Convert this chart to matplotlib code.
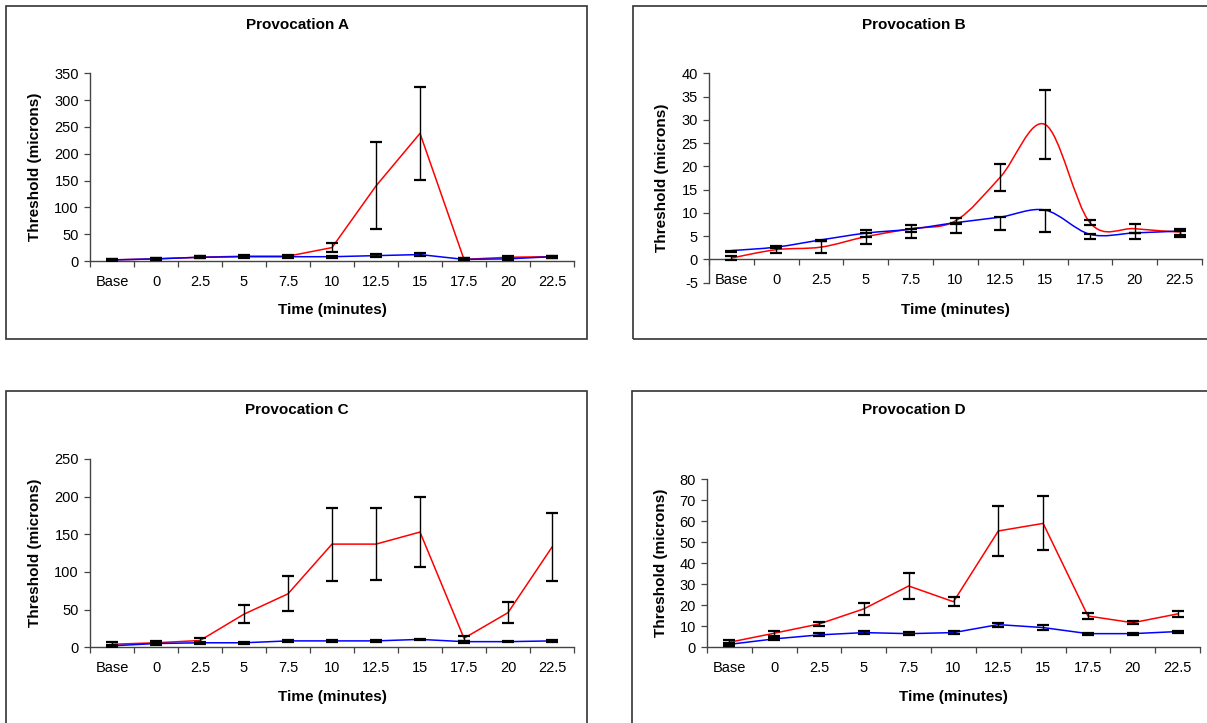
import numpy as np
import matplotlib
matplotlib.use("Agg")
import matplotlib.pyplot as plt
from matplotlib.path import Path
from matplotlib.patches import PathPatch, Rectangle
from matplotlib.ticker import FixedLocator, NullFormatter

plt.rcParams['font.family'] = ['Liberation Sans', 'DejaVu Sans']

categories = ["Base", "0", "2.5", "5", "7.5", "10", "12.5", "15", "17.5", "20", "22.5"]

# Provocation A
a_red = [2, 4, 7, 9, 9, 25, 140, 238, 3, 7, 8]
a_red_err = [2, 2, 2, 2, 2, 9, 81, 87, 2, 2, 2]
a_blue = [2, 4, 7, 8, 8, 8, 10, 12, 3, 4, 8]
a_blue_err = [2, 2, 2, 2, 2, 2, 3, 2, 2, 2, 2]

# Provocation B (smoothed lines)
b_red = [0.3, 2.1, 2.65, 4.9, 6.6, 8.3, 17.7, 29.0, 7.9, 6.6, 5.9]
b_red_err = [0.5, 0.7, 1.3, 1.5, 0.8, 0.7, 2.9, 7.5, 0.5, 1.0, 0.6]
b_blue = [1.9, 2.65, 4.2, 5.65, 6.5, 7.9, 9.1, 10.6, 5.4, 5.7, 6.1]
b_blue_err_low = [0.3, 0.3, 0.3, 0.8, 2.0, 2.2, 2.7, 4.7, 1.0, 1.3, 1.2]
b_blue_err_high = [0, 0, 0, 0, 0, 0, 0, 0, 0, 0, 0]

# Provocation C
c_red = [4, 6, 9, 44, 71, 137, 137, 153, 12, 46, 133]
c_red_err = [3, 2, 3, 11.5, 23, 48.5, 47.5, 46, 3.5, 14, 45]
c_blue = [2, 5, 6, 6, 8.5, 8.5, 8.5, 10.5, 7.5, 7.5, 8.5]
c_blue_err = [1.5, 1.5, 1.5, 1, 1, 1, 1, 1, 1.5, 1, 1]

# Provocation D
d_red = [2.4, 6.7, 11.1, 18.3, 29.2, 21.7, 55.4, 59.0, 14.9, 11.7, 15.9]
d_red_err = [1.2, 1.1, 1.1, 2.8, 6.3, 2.2, 12.1, 12.9, 1.6, 0.6, 1.6]
d_blue = [1.4, 4.0, 5.9, 7.0, 6.5, 7.0, 10.8, 9.4, 6.5, 6.5, 7.5]
d_blue_err = [0.8, 0.5, 0.7, 0.8, 0.8, 0.8, 1.0, 1.0, 0.5, 0.5, 0.5]

W, H = 1207, 723
fig = plt.figure(figsize=(W / 100, H / 100), dpi=100)

AX_COL = '#444444'
FRAME_COL = '#333333'


def px_axes(x0, x1, y_top, y_bot):
    return fig.add_axes([x0 / W, 1 - y_bot / H, (x1 - x0) / W, (y_bot - y_top) / H])


def smooth(ax, x, y, color):
    x = np.asarray(x, float)
    y = np.asarray(y, float)
    P = np.column_stack([x, y])
    n = len(P)
    m = np.zeros_like(P)
    for i in range(n):
        if i == 0:
            m[i] = (P[1] - P[0]) / 2
        elif i == n - 1:
            m[i] = (P[-1] - P[-2]) / 2
        else:
            m[i] = (P[i + 1] - P[i - 1]) / 2
    verts = [P[0]]
    codes = [Path.MOVETO]
    for i in range(n - 1):
        verts += [P[i] + m[i] / 3, P[i + 1] - m[i + 1] / 3, P[i + 1]]
        codes += [Path.CURVE4] * 3
    ax.add_patch(PathPatch(Path(verts, codes), fill=False, edgecolor=color, lw=1.1, zorder=2))


def panel(box, ylim, yticks, red, red_err, blue, blue_err, smooth_lines=False):
    ax = px_axes(*box)
    x = np.arange(len(categories))
    if smooth_lines:
        smooth(ax, x, red, 'red')
        smooth(ax, x, blue, 'blue')
    else:
        ax.plot(x, red, color='red', lw=1.1, zorder=2)
        ax.plot(x, blue, color='blue', lw=1.1, zorder=2)
    ax.errorbar(x, red, yerr=red_err, fmt='none', ecolor='black', elinewidth=1.0,
                capsize=4, capthick=1.6, zorder=3)
    ax.errorbar(x, blue, yerr=blue_err, fmt='none', ecolor='black', elinewidth=1.0,
                capsize=4, capthick=1.6, zorder=3)
    ax.set_xlim(-0.5, len(categories) - 0.5)
    ax.set_ylim(*ylim)
    ax.set_yticks(yticks)
    ax.set_yticklabels([str(t) for t in yticks])
    ax.xaxis.set_major_locator(FixedLocator(np.arange(-0.5, len(categories), 1.0)))
    ax.xaxis.set_major_formatter(NullFormatter())
    ax.xaxis.set_minor_locator(FixedLocator(x))
    ax.set_xticklabels(categories, minor=True)
    ax.tick_params(axis='x', which='major', direction='out', length=4.5, width=0.9, color=AX_COL)
    ax.tick_params(axis='x', which='minor', length=0, pad=10, labelsize=10.5)
    ax.tick_params(axis='y', direction='out', length=4, width=0.9, color=AX_COL, pad=4, labelsize=10.5)
    for s in ['top', 'right']:
        ax.spines[s].set_visible(False)
    for s in ['left', 'bottom']:
        ax.spines[s].set_color(AX_COL)
        ax.spines[s].set_linewidth(1.0)
    ax.spines['bottom'].set_position(('data', 0))
    ax.patch.set_alpha(0)
    return ax


def frame(x0, y0, x1, y1):
    fig.patches.append(Rectangle((x0 / W, 1 - y1 / H), (x1 - x0) / W, (y1 - y0) / H,
                                 transform=fig.transFigure, fill=False,
                                 edgecolor=FRAME_COL, lw=1.2))


def labels(title, tx, ty, xlx, xly, ylx, yly):
    fig.text(tx / W, 1 - ty / H, title, ha='center', va='center', fontsize=11, fontweight='bold')
    fig.text(xlx / W, 1 - xly / H, 'Time (minutes)', ha='center', va='center', fontsize=11, fontweight='bold')
    fig.text(ylx / W, 1 - yly / H, 'Threshold (microns)', ha='center', va='center', fontsize=11,
             fontweight='bold', rotation=90)


frame(6, 6, 587, 339)
frame(633, 6, 1230, 339)
frame(6, 391, 587, 740)
frame(632, 391, 1230, 740)

panel((90, 574, 73.3, 261), (0, 350), [0, 50, 100, 150, 200, 250, 300, 350],
      a_red, a_red_err, a_blue, a_blue_err)
labels('Provocation A', 297, 25, 332, 310, 35, 167)

panel((709, 1202, 73.3, 282.7), (-5, 40), [-5, 0, 5, 10, 15, 20, 25, 30, 35, 40],
      b_red, b_red_err, b_blue, [b_blue_err_low, b_blue_err_high], smooth_lines=True)
labels('Provocation B', 914, 25, 955, 310, 662, 178)

panel((90, 574, 459, 647.3), (0, 250), [0, 50, 100, 150, 200, 250],
      c_red, c_red_err, c_blue, c_blue_err)
labels('Provocation C', 297, 410, 332, 697, 35, 553)

panel((707, 1200, 479.3, 647.3), (0, 80), [0, 10, 20, 30, 40, 50, 60, 70, 80],
      d_red, d_red_err, d_blue, d_blue_err)
labels('Provocation D', 914, 410, 953, 697, 661, 563)

fig.savefig('out.png', dpi=100)
